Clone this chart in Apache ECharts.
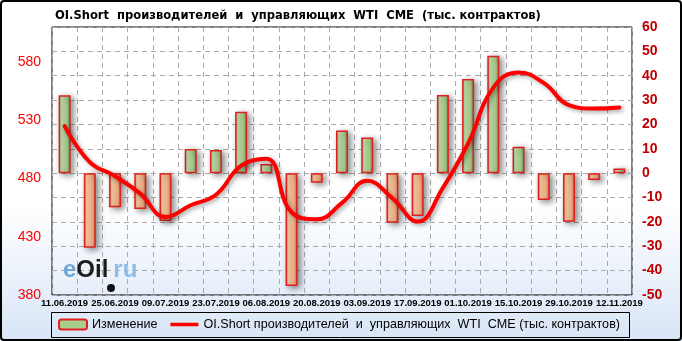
<!DOCTYPE html>
<html><head><meta charset="utf-8">
<script src="https://cdn.jsdelivr.net/npm/echarts@6/dist/echarts.min.js"></script>
<style>html,body{margin:0;padding:0;background:#fff}#c{width:682px;height:341px}</style>
</head><body><div id="c"></div>
<script>
const categories = ['11.06.2019','18.06.2019','25.06.2019','02.07.2019','09.07.2019','16.07.2019','23.07.2019','30.07.2019','06.08.2019','13.08.2019','20.08.2019','27.08.2019','03.09.2019','10.09.2019','17.09.2019','24.09.2019','01.10.2019','08.10.2019','15.10.2019','22.10.2019','29.10.2019','05.11.2019','12.11.2019'];
const changeValues = [32, -30.6, -14, -14.7, -19.6, 9.9, 9.5, 25.2, 3.8, -46.3, -3.9, 17.5, 14.6, -20.3, -17.6, 32.1, 38.7, 48.2, 10.9, -11, -19.9, -2.8, 1.9];
const oiShortValues = [525, 494, 482, 467, 447, 457, 466, 491, 497, 451, 445, 459, 478, 463, 443, 472, 510, 558, 571, 562, 543, 540, 541];
const seriesNames = ['Изменение', 'OI.Short производителей  и  управляющих  WTI  CME (тыс. контрактов)'];
const titleText = 'OI.Short  производителей  и  управляющих  WTI  CME  (тыс. контрактов)';

const G = echarts.graphic;
const greenFill = new G.LinearGradient(0,0,1,0,[{offset:0,color:'#86ad6e'},{offset:0.25,color:'#c6e3af'},{offset:0.7,color:'#a8cf8c'},{offset:1,color:'#6a8d53'}]);
const orangeFill = new G.LinearGradient(0,0,1,0,[{offset:0,color:'#d29066'},{offset:0.25,color:'#fdd0a8'},{offset:0.7,color:'#f7b487'},{offset:1,color:'#b5754c'}]);
const barShadow = {shadowColor:'rgba(0,0,0,0.45)', shadowBlur:6, shadowOffsetX:3, shadowOffsetY:2};

const chart = echarts.init(document.getElementById('c'), null, {renderer:'canvas'});
chart.setOption({
  animation:false,
  backgroundColor: new G.LinearGradient(0,0,0,1,[{offset:0,color:'#ffffff'},{offset:0.6,color:'#ffffff'},{offset:1,color:'#d8e5f6'}]),
  title:{text:titleText,left:50,top:4,textStyle:{fontFamily:'DejaVu Sans Condensed',fontWeight:'bold',fontSize:12.8,color:'#000'}},
  graphic:[
    {type:'rect',shape:{x:1,y:1,width:680,height:339,r:3},style:{fill:'none',stroke:'#000',lineWidth:2},z:100},
    {type:'rect',shape:{x:51.5,y:312.5,width:578,height:25},style:{fill:'none',stroke:'#000',lineWidth:1},z:100},
    {type:'text',left:63,top:258,z:50,style:{text:'{e|e}{o|Oil}{r|ru}',rich:{
      e:{fontFamily:'Liberation Sans',fontSize:24,fontWeight:'bold',fill:'#6ea6d8'},
      o:{fontFamily:'Liberation Sans',fontSize:24,fontWeight:'bold',fill:'#1c1c1c'},
      r:{fontFamily:'Liberation Sans',fontSize:24,fontWeight:'bold',fill:'#90bde6',padding:[0,0,0,5]}}}},
    {type:'circle',shape:{cx:111,cy:288,r:4},style:{fill:'#111'},z:50}
  ],
  legend:{left:58,top:318,padding:0,itemWidth:28,itemHeight:10,itemGap:13,
    textStyle:{fontFamily:'Liberation Sans',fontSize:12.6,color:'#000'},
    data:[{name:seriesNames[0],itemStyle:{color:'#a8cf8c',borderColor:'#e02020',borderWidth:2}},
          {name:seriesNames[1],icon:'path://M0,0L0.01,0M0,3.2L28,3.2L28,6.8L0,6.8ZM28,10L27.99,10',itemStyle:{color:'#ff0000',borderWidth:0}}]},
  grid:{left:52,right:50,top:27,bottom:46,show:true,borderColor:'#000',borderWidth:1,backgroundColor:'transparent'},
  xAxis:{type:'category',data:categories,boundaryGap:true,
    axisLine:{show:false},axisTick:{show:false},
    axisLabel:{interval:1,margin:3,fontFamily:'Liberation Sans',fontWeight:'bold',fontSize:9.5,color:'#000'},
    splitLine:{show:true,interval:0,lineStyle:{color:'#aaaaaa',type:[5,4],width:1}}},
  yAxis:[
    {type:'value',min:380,max:610,interval:50,position:'left',
      axisLine:{show:false},axisTick:{show:false},splitLine:{show:false},
      axisLabel:{showMaxLabel:false,margin:11,fontFamily:'Liberation Sans',fontSize:14,color:'#ff0000'}},
    {type:'value',min:-50,max:60,interval:10,position:'right',
      axisLine:{show:false},axisTick:{show:false},
      splitLine:{show:true,lineStyle:{color:'#aaaaaa',type:[5,4],width:1}},
      axisLabel:{margin:10,fontFamily:'Liberation Sans',fontWeight:'bold',fontSize:14,color:'#c00000'}}
  ],
  series:[
    {name:seriesNames[0],type:'bar',yAxisIndex:1,barWidth:12,
      itemStyle:Object.assign({color:greenFill,borderColor:'#e02020',borderWidth:1.5},barShadow),
      data:changeValues.map(v=>({value:v,itemStyle:Object.assign({color:v>=0?greenFill:orangeFill,borderColor:'#e02020',borderWidth:1.5},barShadow)}))},
    {name:seriesNames[1],type:'line',yAxisIndex:0,smooth:0.45,symbol:'none',z:5,
      lineStyle:{color:'#ff0000',width:4,shadowColor:'rgba(0,0,0,0.35)',shadowBlur:4,shadowOffsetX:2,shadowOffsetY:2,cap:'round'},
      itemStyle:{color:'#ff0000'},
      data:oiShortValues}
  ]
});
</script></body></html>
